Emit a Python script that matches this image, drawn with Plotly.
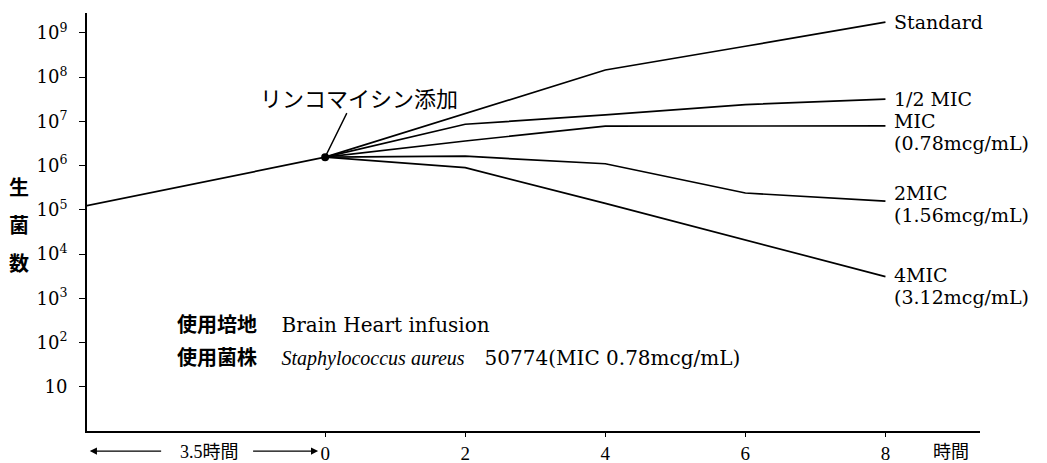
import plotly.graph_objects as go
import numpy as np

# ---- data ----
pre_time = [-3.5, 0]
pre_count = [1.15e5, 1.55e6]

time_h = [0, 2, 4, 6, 8]
standard = [1.55e6, 1.5e7, 1.45e8, 5.0e8, 1.75e9]
half_mic = [1.55e6, 8.6e6, 1.4e7, 2.4e7, 3.2e7]
mic = [1.55e6, 3.6e6, 7.8e6, 7.85e6, 7.9e6]
mic2 = [1.55e6, 1.63e6, 1.1e6, 2.4e5, 1.57e5]
mic4 = [1.55e6, 9.0e5, 1.4e5, 2.1e4, 3.1e3]

series_names = ["Standard", "1/2 MIC", "MIC", "2MIC", "4MIC"]
series_conc = ["", "", "(0.78mcg/mL)", "(1.56mcg/mL)", "(3.12mcg/mL)"]
series_vals = [standard, half_mic, mic, mic2, mic4]
label_shift = [0, 0, 5, 8, 2]

ytick_vals = [10, 1e2, 1e3, 1e4, 1e5, 1e6, 1e7, 1e8, 1e9]
ytick_text = ["10", "10<sup>2</sup>", "10<sup>3</sup>", "10<sup>4</sup>", "10<sup>5</sup>",
              "10<sup>6</sup>", "10<sup>7</sup>", "10<sup>8</sup>", "10<sup>9</sup>"]
xtick_vals = [0, 2, 4, 6, 8]

SERIF = "DejaVu Serif, serif"
SERIF2 = "Liberation Serif, serif"
JP = "Noto Sans CJK JP"
LINE = dict(color="black", width=1.7)
BLACK = "black"

fig = go.Figure()
fig.add_trace(go.Scatter(x=pre_time, y=pre_count, mode="lines", line=LINE, showlegend=False))
for vals in series_vals:
    fig.add_trace(go.Scatter(x=time_h, y=vals, mode="lines", line=LINE, showlegend=False))
fig.add_trace(go.Scatter(x=[pre_time[-1]], y=[pre_count[-1]], mode="markers",
                         marker=dict(color=BLACK, size=8), showlegend=False))

ann = []
for name, conc, vals, sh in zip(series_names, series_conc, series_vals, label_shift):
    yv = np.log10(vals[-1])
    ann.append(dict(x=time_h[-1] + 0.1, y=yv, xref="x", yref="y", text=name,
                    showarrow=False, xanchor="left", yanchor="middle", yshift=sh,
                    font=dict(family=SERIF, size=19, color=BLACK)))
    if conc:
        ann.append(dict(x=time_h[-1] + 0.1, y=yv, xref="x", yref="y", text=conc,
                        showarrow=False, xanchor="left", yanchor="middle", yshift=sh - 22,
                        font=dict(family=SERIF, size=19, color=BLACK)))

# addition label + pointer
ann.append(dict(x=0.49, y=7.55, xref="x", yref="y", text="リンコマイシン添加", showarrow=False,
                font=dict(family=JP, size=22, color=BLACK)))
ann.append(dict(x=0, y=np.log10(pre_count[-1]), xref="x", yref="y", ax=0.32, ay=7.22,
                axref="x", ayref="y", text="", showarrow=True, arrowhead=0,
                arrowwidth=1.4, arrowcolor=BLACK))

# y-axis title, one character per row
for ch, py in zip(["生", "菌", "数"], [0.586, 0.495, 0.404]):
    ann.append(dict(x=-0.076, y=py, xref="paper", yref="paper", text="<b>%s</b>" % ch,
                    xanchor="center", yanchor="middle",
                    showarrow=False, font=dict(family=JP, size=20, color=BLACK)))

# notes
ann.append(dict(x=-2.15, y=2.42, xref="x", yref="y", xanchor="left", yanchor="middle", showarrow=False,
                text="<b>使用培地</b> 　<span style='font-family:DejaVu Serif'>Brain Heart infusion</span>",
                font=dict(family=JP, size=20, color=BLACK)))
ann.append(dict(x=-2.15, y=1.68, xref="x", yref="y", xanchor="left", yanchor="middle", showarrow=False,
                text="<b>使用菌株</b> 　<span style='font-family:Liberation Serif'><i>Staphylococcus aureus</i></span>　"
                     "<span style='font-family:DejaVu Serif'>50774(MIC 0.78mcg/mL)</span>",
                font=dict(family=JP, size=20, color=BLACK)))

# x-axis unit
ann.append(dict(x=8.93, y=-0.046, xref="x", yref="paper", text="時間", showarrow=False,
                xanchor="center", yanchor="middle",
                font=dict(family=JP, size=18, color=BLACK)))

# bottom "3.5時間" arrows
ann.append(dict(x=-1.65, y=-0.046, xref="x", yref="paper", showarrow=False,
                xanchor="center", yanchor="middle",
                text="<span style='font-family:Liberation Serif'>3.5</span>時間",
                font=dict(family=JP, size=18, color=BLACK)))
ann.append(dict(x=-3.36, y=-0.048, xref="x", yref="paper", ax=-2.32, ay=0, axref="x", ayref="pixel",
                text="", showarrow=True, arrowhead=2, arrowsize=1.1, arrowwidth=1.3, arrowcolor=BLACK))
ann.append(dict(x=-0.1, y=-0.048, xref="x", yref="paper", ax=-1.05, ay=0, axref="x", ayref="pixel",
                text="", showarrow=True, arrowhead=2, arrowsize=1.1, arrowwidth=1.3, arrowcolor=BLACK))

fig.update_layout(
    width=1047, height=463,
    margin=dict(l=87, r=67, t=13, b=32),
    paper_bgcolor="white", plot_bgcolor="white",
    annotations=ann,
    xaxis=dict(range=[-3.4, 9.35], tickvals=xtick_vals, ticks="outside", ticklen=4,
               tickwidth=1.2, tickcolor=BLACK, showgrid=False, zeroline=False,
               showline=True, linecolor=BLACK, linewidth=2, automargin=False,
               tickfont=dict(family=SERIF2, size=19, color=BLACK)),
    yaxis=dict(type="log", range=[0, 9.45], tickvals=ytick_vals, ticktext=ytick_text,
               ticks="outside", ticklen=6, tickwidth=1.2, tickcolor=BLACK,
               showgrid=False, zeroline=False, showline=True, linecolor=BLACK, linewidth=2,
               automargin=False, ticklabelstandoff=8,
               tickfont=dict(family=SERIF, size=18, color=BLACK)),
)

fig.write_html("out.html")
